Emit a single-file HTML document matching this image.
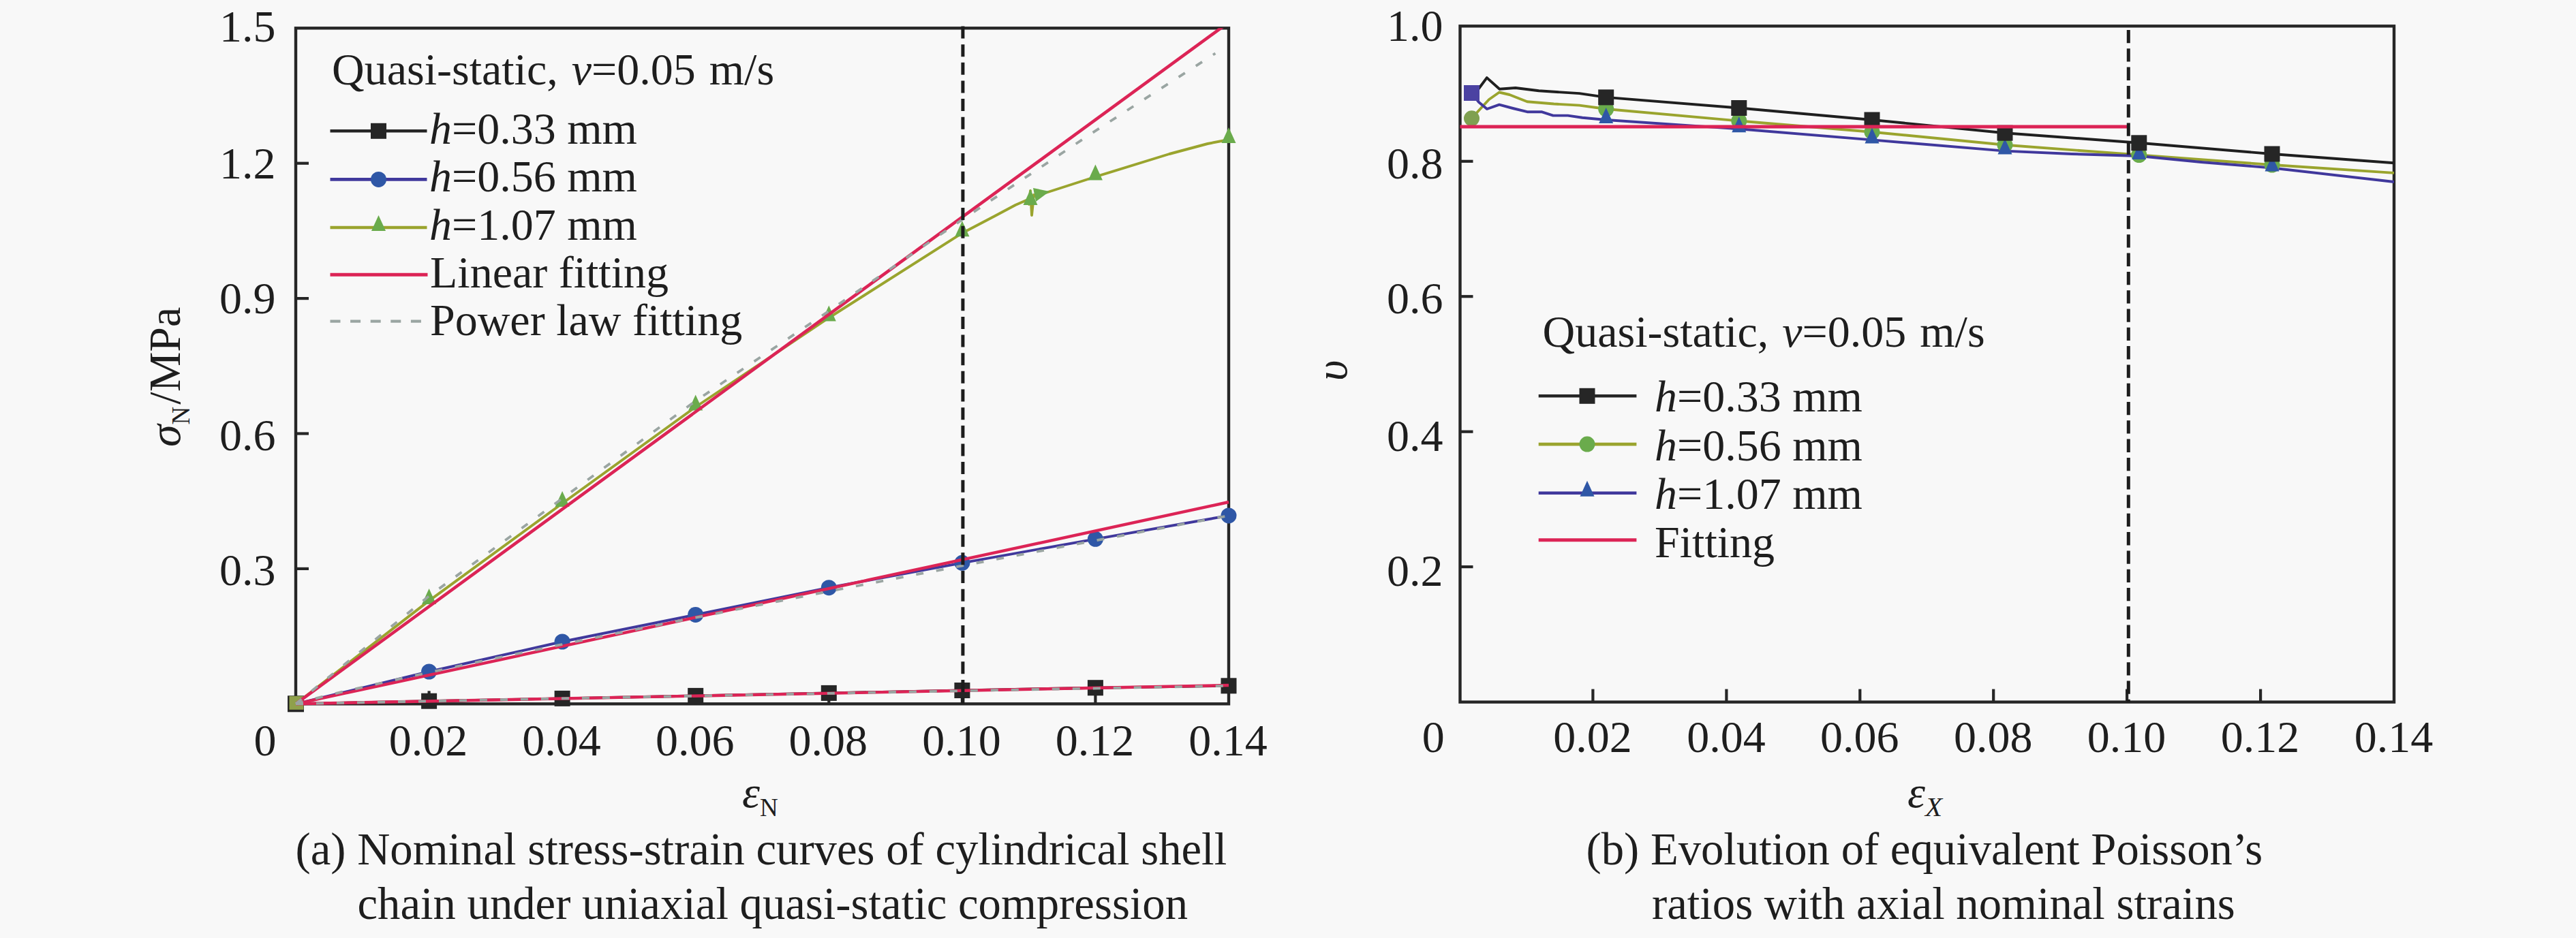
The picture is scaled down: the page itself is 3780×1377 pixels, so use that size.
<!DOCTYPE html>
<html lang="en"><head><meta charset="utf-8"><title>Nominal stress-strain curves and Poisson ratios</title>
<style>
html,body{margin:0;padding:0;background:#f8f8f8;}
body{width:3780px;height:1377px;overflow:hidden;}
svg{display:block;}
text{font-family:"Liberation Serif","Times New Roman",serif;fill:#1e1e1e;}
.t{font-size:66px;}
.c{font-size:66.7px;}
.i{font-style:italic;}
.s{font-size:37px;}
</style></head><body>
<svg width="3780" height="1377" viewBox="0 0 3780 1377">
<rect x="0" y="0" width="3780" height="1377" fill="#f8f8f8"/>

<g id="chartA">
<clipPath id="clipA"><rect x="434.0" y="41.3" width="1369.0" height="992.0"/></clipPath>
<rect x="434.0" y="41.3" width="1369.0" height="992.0" fill="none" stroke="#262626" stroke-width="4.4"/>
<line x1="434.0" x2="453.0" y1="834.9" y2="834.9" stroke="#262626" stroke-width="4.2"/>
<line x1="434.0" x2="453.0" y1="636.5" y2="636.5" stroke="#262626" stroke-width="4.2"/>
<line x1="434.0" x2="453.0" y1="438.1" y2="438.1" stroke="#262626" stroke-width="4.2"/>
<line x1="434.0" x2="453.0" y1="239.7" y2="239.7" stroke="#262626" stroke-width="4.2"/>
<line x1="629.6" x2="629.6" y1="1033.3" y2="1014.3" stroke="#262626" stroke-width="4.2"/>
<line x1="825.1" x2="825.1" y1="1033.3" y2="1014.3" stroke="#262626" stroke-width="4.2"/>
<line x1="1020.7" x2="1020.7" y1="1033.3" y2="1014.3" stroke="#262626" stroke-width="4.2"/>
<line x1="1216.3" x2="1216.3" y1="1033.3" y2="1014.3" stroke="#262626" stroke-width="4.2"/>
<line x1="1411.9" x2="1411.9" y1="1033.3" y2="1014.3" stroke="#262626" stroke-width="4.2"/>
<line x1="1607.4" x2="1607.4" y1="1033.3" y2="1014.3" stroke="#262626" stroke-width="4.2"/>
<path d="M434.0 1033.3L629.6 1029.2L825.1 1025.4L1020.7 1021.4L1216.3 1017.4L1411.9 1013.5L1607.4 1009.7L1803.0 1006.8" fill="none" stroke="#262626" stroke-width="3.9" stroke-linejoin="round" />
<rect x="422.5" y="1021.8" width="23" height="23" fill="#262626"/>
<rect x="618.1" y="1017.7" width="23" height="23" fill="#262626"/>
<rect x="813.6" y="1013.9" width="23" height="23" fill="#262626"/>
<rect x="1009.2" y="1009.9" width="23" height="23" fill="#262626"/>
<rect x="1204.8" y="1005.9" width="23" height="23" fill="#262626"/>
<rect x="1400.4" y="1002.0" width="23" height="23" fill="#262626"/>
<rect x="1595.9" y="998.2" width="23" height="23" fill="#262626"/>
<rect x="1791.5" y="995.3" width="23" height="23" fill="#262626"/>
<path d="M434.0 1033.3L629.6 986.0L825.1 942.0L1020.7 902.4L1216.3 862.7L1411.9 826.3L1607.4 791.3L1803.0 756.9" fill="none" stroke="#40389c" stroke-width="3.9" stroke-linejoin="round" />
<circle cx="629.6" cy="986.0" r="11.5" fill="#2f57a6"/>
<circle cx="825.1" cy="942.0" r="11.5" fill="#2f57a6"/>
<circle cx="1020.7" cy="902.4" r="11.5" fill="#2f57a6"/>
<circle cx="1216.3" cy="862.7" r="11.5" fill="#2f57a6"/>
<circle cx="1411.9" cy="826.3" r="11.5" fill="#2f57a6"/>
<circle cx="1607.4" cy="791.3" r="11.5" fill="#2f57a6"/>
<circle cx="1803.0" cy="756.9" r="11.5" fill="#2f57a6"/>
<path d="M434.0 1033.3L629.6 881.9L825.1 739.0L1020.7 597.5L1216.3 466.5L1411.9 342.2L1460.0 317.0L1490.0 301.0L1506.0 294.0L1510.0 300.0L1512.0 280.0L1514.0 316.0L1517.0 286.0L1522.0 290.0L1530.0 284.5L1607.5 259.5L1716.0 226.0L1772.0 211.0L1803.0 205.0" fill="none" stroke="#9aa42e" stroke-width="3.9" stroke-linejoin="round" />
<path d="M619.1 886.9L640.1 886.9L629.6 863.9Z" fill="#6aab4c"/>
<path d="M814.6 744.0L835.6 744.0L825.1 721.0Z" fill="#6aab4c"/>
<path d="M1010.2 602.5L1031.2 602.5L1020.7 579.5Z" fill="#6aab4c"/>
<path d="M1205.8 471.5L1226.8 471.5L1216.3 448.5Z" fill="#6aab4c"/>
<path d="M1401.4 347.2L1422.4 347.2L1411.9 324.2Z" fill="#6aab4c"/>
<path d="M1596.9 264.5L1617.9 264.5L1607.4 241.5Z" fill="#6aab4c"/>
<path d="M1792.5 210.0L1813.5 210.0L1803.0 187.0Z" fill="#6aab4c"/>
<path d="M1501.5 301.0L1522.5 301.0L1512.0 278.0Z" fill="#6aab4c"/>
<path d="M1516 276L1540 281L1520 296Z" fill="#6aab4c"/>
<rect x="422.0" y="1021.3" width="24" height="24" fill="#262626"/>
<rect x="424.5" y="1021.8" width="21" height="20" fill="#8fa04a"/>
<g clip-path="url(#clipA)">
<path d="M434.0 1033.3L1803.0 32.9" fill="none" stroke="#dc2456" stroke-width="4.6" stroke-linejoin="round" />
</g>
<path d="M434.0 1033.3L1803.0 737.0" fill="none" stroke="#dc2456" stroke-width="4.4" stroke-linejoin="round" />
<path d="M434.0 1033.3L1803.0 1006.0" fill="none" stroke="#dc2456" stroke-width="4.4" stroke-linejoin="round" />
<path d="M434.0 1033.3L629.6 875.0L825.1 731.7L1020.7 588.6L1216.3 456.6L1411.9 322.4L1607.4 192.1L1783.4 78.3" fill="none" stroke="#9aa5a2" stroke-width="3.8" stroke-linejoin="round" stroke-dasharray="11 19"/>
<path d="M434.0 1033.3L456.8 1026.9L479.6 1021.2L502.4 1015.7L525.3 1010.4L548.1 1005.2L570.9 1000.1L593.7 995.0L616.5 990.0L639.4 985.1L662.2 980.2L685.0 975.3L707.8 970.4L730.6 965.6L753.4 960.9L776.2 956.1L799.1 951.4L821.9 946.7L844.7 942.0L867.5 937.4L890.3 932.7L913.2 928.1L936.0 923.5L958.8 918.9L981.6 914.4L1004.4 909.8L1027.2 905.3L1050.0 900.8L1072.9 896.2L1095.7 891.8L1118.5 887.3L1141.3 882.8L1164.1 878.3L1186.9 873.9L1209.8 869.4L1232.6 865.0L1255.4 860.6L1278.2 856.2L1301.0 851.8L1323.8 847.4L1346.7 843.0L1369.5 838.6L1392.3 834.3L1415.1 829.9L1437.9 825.6L1460.8 821.2L1483.6 816.9L1506.4 812.6L1529.2 808.3L1552.0 804.0L1574.8 799.7L1597.6 795.4L1620.5 791.1L1643.3 786.8L1666.1 782.5L1688.9 778.2L1711.7 774.0L1734.5 769.7L1757.4 765.5L1780.2 761.2L1803.0 757.0" fill="none" stroke="#9aa5a2" stroke-width="3.8" stroke-linejoin="round" stroke-dasharray="11 19"/>
<path d="M434.0 1033.3L456.8 1032.8L479.6 1032.3L502.4 1031.8L525.3 1031.4L548.1 1030.9L570.9 1030.5L593.7 1030.0L616.5 1029.5L639.4 1029.1L662.2 1028.6L685.0 1028.2L707.8 1027.7L730.6 1027.3L753.4 1026.8L776.2 1026.4L799.1 1025.9L821.9 1025.5L844.7 1025.1L867.5 1024.6L890.3 1024.2L913.2 1023.7L936.0 1023.3L958.8 1022.8L981.6 1022.4L1004.4 1022.0L1027.2 1021.5L1050.0 1021.1L1072.9 1020.6L1095.7 1020.2L1118.5 1019.8L1141.3 1019.3L1164.1 1018.9L1186.9 1018.5L1209.8 1018.0L1232.6 1017.6L1255.4 1017.1L1278.2 1016.7L1301.0 1016.3L1323.8 1015.8L1346.7 1015.4L1369.5 1015.0L1392.3 1014.5L1415.1 1014.1L1437.9 1013.7L1460.8 1013.2L1483.6 1012.8L1506.4 1012.4L1529.2 1011.9L1552.0 1011.5L1574.8 1011.1L1597.6 1010.7L1620.5 1010.2L1643.3 1009.8L1666.1 1009.4L1688.9 1008.9L1711.7 1008.5L1734.5 1008.1L1757.4 1007.6L1780.2 1007.2L1803.0 1006.8" fill="none" stroke="#9aa5a2" stroke-width="3.8" stroke-linejoin="round" stroke-dasharray="11 19"/>
<line x1="1412.9" x2="1412.9" y1="38.5" y2="1033.3" stroke="#1c1c1c" stroke-width="5" stroke-dasharray="18 8.65"/>
<text class="t" x="404.5" y="60.6" text-anchor="end">1.5</text>
<text class="t" x="404.5" y="261.5" text-anchor="end">1.2</text>
<text class="t" x="404.5" y="460.0" text-anchor="end">0.9</text>
<text class="t" x="404.5" y="661.3" text-anchor="end">0.6</text>
<text class="t" x="404.5" y="858.8" text-anchor="end">0.3</text>
<text class="t" x="389" y="1109.3" text-anchor="middle">0</text>
<text class="t" x="628.6" y="1109.3" text-anchor="middle">0.02</text>
<text class="t" x="824.1" y="1109.3" text-anchor="middle">0.04</text>
<text class="t" x="1019.7" y="1109.3" text-anchor="middle">0.06</text>
<text class="t" x="1215.3" y="1109.3" text-anchor="middle">0.08</text>
<text class="t" x="1410.9" y="1109.3" text-anchor="middle">0.10</text>
<text class="t" x="1606.4" y="1109.3" text-anchor="middle">0.12</text>
<text class="t" x="1802.0" y="1109.3" text-anchor="middle">0.14</text>
<text class="t" x="1089" y="1184.8"><tspan class="i">ε</tspan><tspan class="s" dy="13.6">N</tspan></text>
<text class="t" transform="translate(264,656) rotate(-90)"><tspan class="i">σ</tspan><tspan class="s" dy="13.6">N</tspan><tspan dy="-13.6" dx="3">/MPa</tspan></text>
<text class="t" x="487" y="124" word-spacing="3.5">Quasi-static, <tspan class="i">v</tspan>=0.05 m/s</text>
<line x1="484.5" x2="626.5" y1="192.3" y2="192.3" stroke="#262626" stroke-width="4.6"/><rect x="544.0" y="180.8" width="23" height="23" fill="#262626"/>
<line x1="484.5" x2="626.5" y1="263.4" y2="263.4" stroke="#40389c" stroke-width="4.6"/><circle cx="555.5" cy="263.4" r="11.5" fill="#2f57a6"/>
<line x1="484.5" x2="626.5" y1="334.0" y2="334.0" stroke="#9aa42e" stroke-width="4.6"/><path d="M545.0 339.0L566.0 339.0L555.5 316.0Z" fill="#6aab4c"/>
<line x1="484.5" x2="627.5" y1="403.2" y2="403.2" stroke="#dc2456" stroke-width="5"/>
<line x1="484.5" x2="626.5" y1="471.6" y2="471.6" stroke="#9aa5a2" stroke-width="4.4" stroke-dasharray="15 14.6"/>
<text class="t" x="630" y="211.0"><tspan class="i">h</tspan>=0.33 mm</text>
<text class="t" x="630" y="281.3"><tspan class="i">h</tspan>=0.56 mm</text>
<text class="t" x="630" y="351.5"><tspan class="i">h</tspan>=1.07 mm</text>
<text class="t" x="631" y="421.6">Linear fitting</text>
<text class="t" x="631" y="491.9">Power law fitting</text>
</g>
<g id="chartB">
<rect x="2142.5" y="38.3" width="1370.5" height="992.3" fill="none" stroke="#262626" stroke-width="4.4"/>
<line x1="2142.5" x2="2161.5" y1="832.1" y2="832.1" stroke="#262626" stroke-width="4.2"/>
<line x1="2142.5" x2="2161.5" y1="633.7" y2="633.7" stroke="#262626" stroke-width="4.2"/>
<line x1="2142.5" x2="2161.5" y1="435.2" y2="435.2" stroke="#262626" stroke-width="4.2"/>
<line x1="2142.5" x2="2161.5" y1="236.8" y2="236.8" stroke="#262626" stroke-width="4.2"/>
<line x1="2337.4" x2="2337.4" y1="1030.6" y2="1011.5999999999999" stroke="#262626" stroke-width="4.2"/>
<line x1="2533.4" x2="2533.4" y1="1030.6" y2="1011.5999999999999" stroke="#262626" stroke-width="4.2"/>
<line x1="2729.3" x2="2729.3" y1="1030.6" y2="1011.5999999999999" stroke="#262626" stroke-width="4.2"/>
<line x1="2925.2" x2="2925.2" y1="1030.6" y2="1011.5999999999999" stroke="#262626" stroke-width="4.2"/>
<line x1="3121.1" x2="3121.1" y1="1030.6" y2="1011.5999999999999" stroke="#262626" stroke-width="4.2"/>
<line x1="3317.1" x2="3317.1" y1="1030.6" y2="1011.5999999999999" stroke="#262626" stroke-width="4.2"/>
<path d="M2159.5 173.8L2172.0 160.0L2185.0 146.0L2200.0 135.5L2215.0 139.0L2241.0 149.3L2280.0 152.5L2317.6 154.6L2357.0 160.0L2551.8 177.5L2747.0 193.7L2942.0 212.8L3138.8 227.5L3334.0 242.0L3513.0 253.9" fill="none" stroke="#9aa42e" stroke-width="3.9" stroke-linejoin="round" />
<path d="M2159.5 136.5L2170.0 150.0L2182.0 160.0L2200.0 153.6L2220.0 159.0L2241.0 164.2L2262.0 164.2L2279.0 169.6L2300.6 169.6L2322.0 172.8L2357.0 176.0L2551.8 189.3L2747.0 205.4L2942.0 221.6L3040.0 226.0L3138.8 229.0L3230.0 238.0L3334.0 246.5L3513.0 267.0" fill="none" stroke="#40389c" stroke-width="3.9" stroke-linejoin="round" />
<path d="M2159.5 136.5L2170.0 130.0L2181.8 114.1L2200.4 130.7L2223.8 129.0L2258.0 133.3L2317.6 137.1L2357.0 142.9L2551.8 158.5L2747.0 176.0L2942.0 195.2L3138.8 209.8L3334.0 226.0L3513.0 239.2" fill="none" stroke="#1f1f1f" stroke-width="3.9" stroke-linejoin="round" />
<circle cx="2159.5" cy="173.8" r="11.5" fill="#7fa050"/>
<rect x="2148.0" y="125.0" width="23" height="23" fill="#4b42a2"/>
<circle cx="2356.7" cy="160.0" r="11.5" fill="#6aab4c"/>
<path d="M2346.2 181.0L2367.2 181.0L2356.7 158.0Z" fill="#2f57a6"/>
<rect x="2345.2" y="131.4" width="23" height="23" fill="#262626"/>
<circle cx="2551.8" cy="177.5" r="11.5" fill="#6aab4c"/>
<path d="M2541.3 194.3L2562.3 194.3L2551.8 171.3Z" fill="#2f57a6"/>
<rect x="2540.3" y="147.0" width="23" height="23" fill="#262626"/>
<circle cx="2747.0" cy="193.7" r="11.5" fill="#6aab4c"/>
<path d="M2736.5 210.4L2757.5 210.4L2747.0 187.4Z" fill="#2f57a6"/>
<rect x="2735.5" y="164.5" width="23" height="23" fill="#262626"/>
<circle cx="2942.0" cy="212.8" r="11.5" fill="#6aab4c"/>
<path d="M2931.5 226.6L2952.5 226.6L2942.0 203.6Z" fill="#2f57a6"/>
<rect x="2930.5" y="183.7" width="23" height="23" fill="#262626"/>
<circle cx="3138.8" cy="227.5" r="11.5" fill="#6aab4c"/>
<path d="M3128.3 234.0L3149.3 234.0L3138.8 211.0Z" fill="#2f57a6"/>
<rect x="3127.3" y="198.3" width="23" height="23" fill="#262626"/>
<circle cx="3334.0" cy="242.0" r="11.5" fill="#6aab4c"/>
<path d="M3323.5 251.5L3344.5 251.5L3334.0 228.5Z" fill="#2f57a6"/>
<rect x="3322.5" y="214.5" width="23" height="23" fill="#262626"/>
<line x1="2142.5" x2="3121.1" y1="186" y2="186" stroke="#dc2456" stroke-width="5"/>
<line x1="3123.3" x2="3123.3" y1="44" y2="1030.6" stroke="#1c1c1c" stroke-width="5" stroke-dasharray="19.3 8"/>
<text class="t" x="2117.5" y="60.3" text-anchor="end">1.0</text>
<text class="t" x="2117.5" y="261.7" text-anchor="end">0.8</text>
<text class="t" x="2117.5" y="460.0" text-anchor="end">0.6</text>
<text class="t" x="2117.5" y="661.5" text-anchor="end">0.4</text>
<text class="t" x="2117.5" y="860.0" text-anchor="end">0.2</text>
<text class="t" x="2103.3" y="1104" text-anchor="middle">0</text>
<text class="t" x="2336.9" y="1104" text-anchor="middle">0.02</text>
<text class="t" x="2532.9" y="1104" text-anchor="middle">0.04</text>
<text class="t" x="2728.8" y="1104" text-anchor="middle">0.06</text>
<text class="t" x="2924.7" y="1104" text-anchor="middle">0.08</text>
<text class="t" x="3120.6" y="1104" text-anchor="middle">0.10</text>
<text class="t" x="3316.6" y="1104" text-anchor="middle">0.12</text>
<text class="t" x="3512.5" y="1104" text-anchor="middle">0.14</text>
<text class="t" x="2799" y="1185"><tspan class="i">ε</tspan><tspan class="i" font-size="41" dy="13.4">X</tspan></text>
<text class="t i" transform="translate(1975.5,559) rotate(-90)">υ</text>
<text class="t" x="2263.5" y="508.5" word-spacing="3.5">Quasi-static, <tspan class="i">v</tspan>=0.05 m/s</text>
<line x1="2257.7" x2="2401.4" y1="581.3" y2="581.3" stroke="#262626" stroke-width="4.6"/><rect x="2317.5" y="569.8" width="23" height="23" fill="#262626"/>
<line x1="2257.7" x2="2401.4" y1="652.1" y2="652.1" stroke="#9aa42e" stroke-width="4.6"/><circle cx="2329.0" cy="652.1" r="11.5" fill="#6aab4c"/>
<line x1="2257.7" x2="2401.4" y1="723.7" y2="723.7" stroke="#40389c" stroke-width="4.6"/><path d="M2318.5 728.7L2339.5 728.7L2329.0 705.7Z" fill="#2f57a6"/>
<line x1="2257.7" x2="2401.4" y1="792.7" y2="792.7" stroke="#dc2456" stroke-width="5"/>
<text class="t" x="2428" y="604.0"><tspan class="i">h</tspan>=0.33 mm</text>
<text class="t" x="2428" y="675.6"><tspan class="i">h</tspan>=0.56 mm</text>
<text class="t" x="2428" y="747.2"><tspan class="i">h</tspan>=1.07 mm</text>
<text class="t" x="2428" y="818.4">Fitting</text>
</g>
<g id="captions">
<text class="c" x="433.5" y="1269">(a) Nominal stress-strain curves of cylindrical shell</text>
<text class="c" x="524.5" y="1348.6">chain under uniaxial quasi-static compression</text>
<text class="c" x="2327.5" y="1269">(b) Evolution of equivalent Poisson’s</text>
<text class="c" x="2424" y="1348.6">ratios with axial nominal strains</text>
</g>
</svg></body></html>
